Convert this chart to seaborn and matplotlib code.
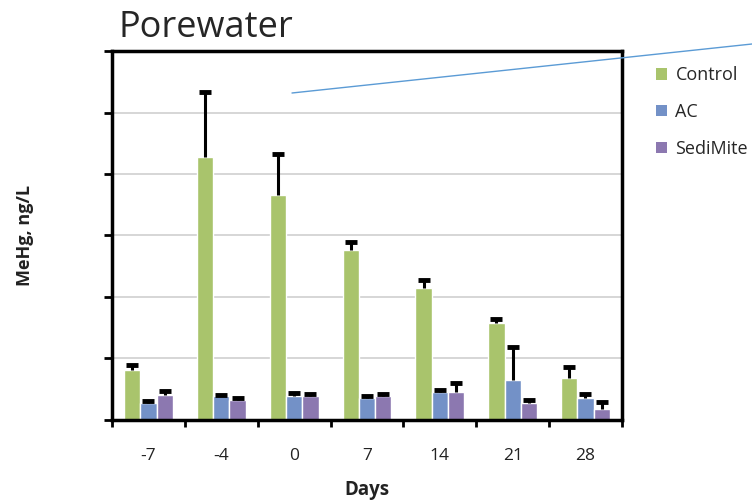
import numpy as np
import pandas as pd
import matplotlib
matplotlib.use("Agg")
import matplotlib.pyplot as plt
from matplotlib.lines import Line2D
from matplotlib.patches import Patch
import seaborn as sns

days = ["-7", "-4", "0", "7", "14", "21", "28"]
treatments = ["Control", "AC", "SediMite"]
control = [0.81, 4.28, 3.66, 2.77, 2.15, 1.58, 0.68]
control_err = [0.09, 1.05, 0.66, 0.13, 0.12, 0.06, 0.18]
ac = [0.28, 0.39, 0.39, 0.36, 0.46, 0.65, 0.36]
ac_err = [0.03, 0.02, 0.05, 0.03, 0.03, 0.54, 0.06]
sedimite = [0.41, 0.33, 0.38, 0.38, 0.46, 0.28, 0.18]
sedimite_err = [0.06, 0.03, 0.04, 0.04, 0.14, 0.05, 0.11]
colors = ["#A9C46C", "#7391C7", "#8C78B0"]

df = pd.DataFrame({
    "Day": days * 3,
    "Treatment": sum([[t] * len(days) for t in treatments], []),
    "MeHg": control + ac + sedimite,
})
errs = [control_err, ac_err, sedimite_err]

sns.set_style("white")
plt.rcParams["font.family"] = ["Open Sans", "DejaVu Sans"]

fig = plt.figure(figsize=(7.52, 5.01), dpi=100)
ax = fig.add_axes([0.149, 0.162, 0.678, 0.736])

sns.barplot(data=df, x="Day", y="MeHg", hue="Treatment", order=days,
            hue_order=treatments, palette=colors, width=0.67, errorbar=None,
            saturation=1, ax=ax, legend=False, zorder=3)

for cont, err in zip(ax.containers, errs):
    for bar, e in zip(cont, err):
        x = bar.get_x() + bar.get_width() / 2
        h = bar.get_height()
        ax.plot([x, x], [h, h + e], color="black", linewidth=2.2, zorder=4,
                solid_capstyle="butt")
        ax.plot([x], [h + e], marker="_", markersize=9, markeredgewidth=3.5,
                color="black", zorder=4)

ax.set_ylim(0, 6)
ax.set_xlim(-0.5, 6.5)
ax.set_yticks(range(0, 7))
ax.set_yticklabels([])
ax.yaxis.grid(True, color="#D0D0D0", linewidth=1.2, zorder=0)
ax.set_axisbelow(True)
ax.tick_params(axis="y", length=6, width=2, direction="out", left=True, color="black")
ax.set_xticks(range(len(days)))
ax.set_xticklabels(days, fontsize=12.5, color="#222222")
ax.tick_params(axis="x", which="major", length=0, pad=20)
ax.set_xticks(np.arange(-0.5, 7, 1), minor=True)
ax.tick_params(axis="x", which="minor", length=5, width=2, bottom=True, color="black")
for s in ax.spines.values():
    s.set_visible(True)
    s.set_color("black")
    s.set_linewidth(2.5)
    s.set_zorder(6)

ax.set_xlabel("Days", fontsize=13.5, fontweight="bold", labelpad=12, color="#222222")
ax.set_ylabel("MeHg, ng/L", fontsize=13, fontweight="bold", labelpad=47, color="#222222")

fig.text(0.158, 0.926, "Porewater", fontsize=26, va="baseline", ha="left")

handles = [Patch(facecolor=c, edgecolor="none") for c in colors]
fig.legend(handles, treatments, loc="upper left", bbox_to_anchor=(0.873, 0.868),
           frameon=False, fontsize=13, handlelength=0.6, handleheight=0.6,
           handletextpad=0.45, labelspacing=1.05, borderpad=0, borderaxespad=0)

fig.add_artist(Line2D([292 / 752, 752 / 752], [1 - 93 / 501, 1 - 44 / 501],
                      transform=fig.transFigure, color="#5B9BD5", linewidth=1))

fig.savefig("out.png", dpi=100)
